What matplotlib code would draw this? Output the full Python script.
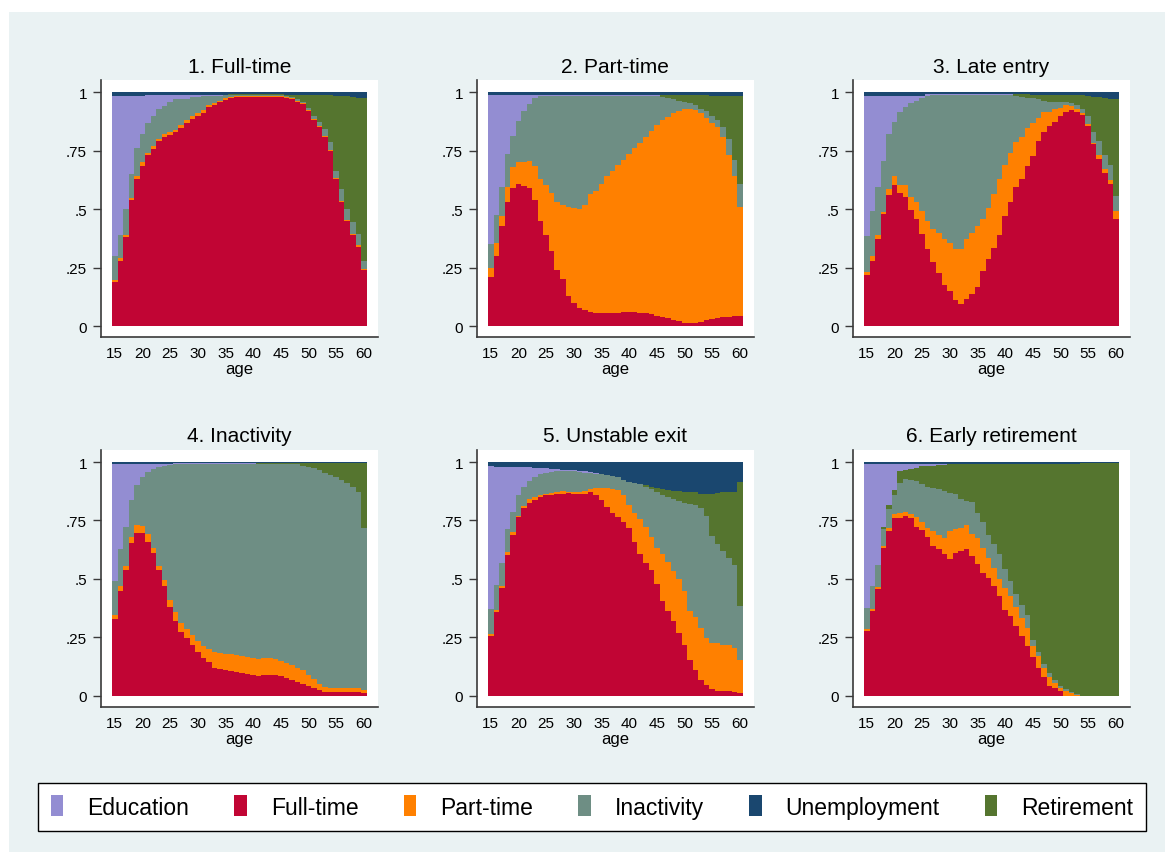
import numpy as np
import matplotlib.pyplot as plt
from matplotlib.patches import Rectangle, Patch

plt.rcParams['font.family'] = ['Liberation Sans', 'DejaVu Sans']

W, H = 1165, 853
BG = '#EAF2F3'

ages = np.arange(15, 61)
titles = ["1. Full-time", "2. Part-time", "3. Late entry",
          "4. Inactivity", "5. Unstable exit", "6. Early retirement"]
legend_labels = ["Education", "Full-time", "Part-time", "Inactivity", "Unemployment", "Retirement"]
colors = {"Education": "#938DD2", "Full-time": "#C10534", "Part-time": "#FF8000",
          "Inactivity": "#6E8E84", "Unemployment": "#1A476F", "Retirement": "#55752F"}
# bottom -> top
stack_order = ["Full-time", "Part-time", "Inactivity", "Retirement", "Education", "Unemployment"]

# ---- 1. Full-time
p1_full = [.19,.28,.38,.54,.63,.69,.73,.76,.79,.81, .82,.83,.85,.87,.89,.90,.92,.94,.95,.96,
           .97,.975,.98,.98,.98,.98,.98,.98,.98,.98, .98,.975,.97,.96,.95,.92,.88,.85,.81,.75,
           .63,.53,.45,.39,.34,.24]
p1_part = [.008,.009,.009,.009,.01,.017,.01,.014,.01,.011, .012,.012,.014,.013,.014,.011,.012,.009,.009,.008,
           .008,.005,.005,.005,.005,.005,.005,.005,.005,.005, .005,.005,.005,.004,.004,.004,.004,.004,.004,.004,
           .004,.004,.004,.005,.005,.004]
p1_inact = [.10,.10,.11,.10,.12,.12,.13,.13,.13,.12, .13,.13,.11,.09,.08,.07,.06,.04,.03,.02,
            .01,.01,.005,.005,.005,.005,.005,.005,.005,.005, .005,.005,.005,.008,.006,.01,.015,.02,.028,.034,
            .028,.05,.045,.05,.05,.036]
p1_ret = [0,0,0,0,0,0,0,0,0,0, 0,0,0,0,0,0,0,0,0,0,
          0,.002,.002,.002,.002,.002,.002,.002,.002,.002, .002,.005,.01,.017,.029,.055,.09,.115,.147,.201,
          .322,.40,.485,.535,.58,.694]
p1_edu = [.685,.595,.485,.335,.225,.165,.12,.09,.06,.05, .03,.02,.02,.02,.01,.01,.005,.005,.005,.005,
          .003,0,0,0,0,0,0,0,0,0, 0,0,0,0,0,0,0,0,0,0,
          0,0,0,0,0,0]
p1_unemp = [.015,.015,.015,.015,.015,.015,.01,.01,.01,.01, .01,.01,.01,.01,.01,.01,.01,.01,.01,.01,
            .01,.008,.008,.008,.008,.008,.008,.008,.008,.008, .008,.01,.01,.01,.01,.01,.01,.01,.01,.01,
            .015,.015,.015,.02,.025,.025]

# ---- 2. Part-time
p2_full = [.21,.30,.43,.53,.59,.61,.60,.59,.54,.45, .39,.32,.24,.20,.13,.10,.077,.069,.06,.055,
           .057,.057,.055,.057,.06,.06,.058,.057,.055,.05, .045,.04,.033,.027,.02,.015,.012,.013,.018,.025,
           .03,.035,.037,.04,.045,.043]
p2_part = [.037,.054,.04,.063,.089,.09,.103,.117,.143,.181, .213,.251,.291,.317,.38,.407,.426,.451,.505,.525,
           .553,.583,.61,.633,.65,.675,.702,.728,.755,.785, .815,.84,.862,.883,.90,.915,.918,.912,.892,.865,
           .84,.815,.773,.69,.595,.467]
p2_inact = [.104,.122,.123,.143,.135,.179,.218,.243,.291,.352, .382,.414,.454,.468,.475,.478,.482,.465,.42,.405,
            .375,.345,.32,.295,.275,.25,.225,.20,.175,.15, .125,.10,.08,.06,.045,.03,.025,.02,.02,.03,
            .03,.03,.04,.07,.07,.10]
p2_ret = [0,0,0,0,0,0,0,0,0,0, 0,0,0,0,0,0,0,0,0,0,
          0,0,0,0,0,0,0,0,0,0, 0,.008,.013,.018,.023,.028,.033,.043,.058,.068,
          .085,.105,.135,.185,.275,.375]
p2_edu = [.637,.512,.395,.252,.174,.109,.067,.038,.014,.005, .003,.003,.003,.003,.003,.003,.003,.003,.003,.003,
          .003,.003,.003,.003,.003,.003,.003,.003,.003,.003, .003,0,0,0,0,0,0,0,0,0,
          0,0,0,0,0,0]
p2_unemp = [.012,.012,.012,.012,.012,.012,.012,.012,.012,.012, .012,.012,.012,.012,.012,.012,.012,.012,.012,.012,
            .012,.012,.012,.012,.012,.012,.012,.012,.012,.012, .012,.012,.012,.012,.012,.012,.012,.012,.012,.012,
            .015,.015,.015,.015,.015,.015]

# ---- 3. Late entry
p3_full = [.217,.279,.374,.479,.56,.603,.569,.554,.496,.457, .393,.329,.274,.229,.174,.149,.111,.093,.114,.136,
           .169,.236,.286,.336,.389,.471,.529,.593,.629,.683, .729,.793,.829,.857,.874,.90,.917,.926,.917,.903,
           .857,.779,.717,.654,.607,.457]
p3_part = [.014,.021,.015,.01,.026,.037,.035,.05,.058,.072, .10,.121,.143,.168,.197,.205,.22,.236,.26,.264,
           .26,.224,.221,.228,.242,.218,.211,.196,.182,.163, .14,.096,.085,.06,.055,.034,.029,.017,.012,.007,
           .008,.006,.013,.016,.018,.036]
p3_inact = [.155,.193,.204,.218,.235,.234,.31,.332,.40,.435, .481,.536,.573,.593,.619,.636,.659,.661,.616,.59,
            .561,.53,.483,.426,.359,.301,.25,.196,.169,.132, .106,.081,.051,.043,.031,.026,.014,.012,.016,.02,
            .035,.045,.06,.06,.065,.062]
p3_ret = [0,0,0,0,0,0,0,0,0,0, 0,0,0,0,0,0,0,0,0,0,
          0,0,0,0,0,0,0,.007,.012,.014, .015,.02,.025,.03,.03,.03,.03,.035,.045,.06,
          .085,.15,.19,.245,.28,.415]
p3_edu = [.599,.492,.392,.278,.164,.111,.071,.049,.031,.021, .011,.006,.002,.002,.002,.002,.002,.002,.002,.002,
          .002,.002,.002,.002,.002,.002,.002,0,0,0, 0,0,0,0,0,0,0,0,0,0,
          0,0,0,0,0,0]
p3_unemp = [.015,.015,.015,.015,.015,.015,.015,.015,.015,.015, .015,.008,.008,.008,.008,.008,.008,.008,.008,.008,
            .008,.008,.008,.008,.008,.008,.008,.008,.008,.008, .01,.01,.01,.01,.01,.01,.01,.01,.01,.01,
            .015,.02,.02,.025,.03,.03]

# ---- 4. Inactivity
p4_full = [.329,.45,.536,.653,.697,.697,.66,.611,.536,.471, .379,.321,.274,.246,.217,.189,.16,.143,.12,.114,
           .111,.106,.103,.097,.093,.089,.083,.089,.089,.089, .083,.074,.069,.06,.051,.04,.031,.023,.017,.014,
           .014,.017,.017,.017,.017,.011]
p4_part = [.017,.019,.021,.026,.032,.029,.031,.02,.021,.026, .032,.036,.037,.04,.043,.047,.051,.057,.069,.069,
           .069,.071,.071,.072,.073,.071,.074,.071,.071,.068, .066,.066,.062,.06,.058,.049,.04,.028,.02,.017,
           .017,.014,.014,.017,.014,.015]
p4_inact = [.147,.157,.164,.157,.174,.21,.266,.338,.422,.486, .575,.633,.679,.704,.73,.754,.779,.79,.801,.807,
            .81,.813,.816,.821,.824,.83,.836,.833,.833,.836, .844,.853,.862,.87,.876,.891,.904,.914,.918,.914,
            .904,.894,.879,.861,.839,.694]
p4_ret = [0,0,0,0,0,0,0,0,0,0, 0,0,0,0,0,0,0,0,0,0,
          0,0,0,0,0,0,.002,.002,.002,.002, .002,.002,.002,.005,.01,.015,.02,.03,.04,.05,
          .06,.07,.085,.10,.125,.275]
p4_edu = [.497,.364,.269,.154,.087,.054,.033,.021,.011,.007, .004,.005,.005,.005,.005,.005,.005,.005,.005,.005,
          .005,.005,.005,.005,.005,.005,0,0,0,0, 0,0,0,0,0,0,0,0,0,0,
          0,0,0,0,0,0]
p4_unemp = [.01,.01,.01,.01,.01,.01,.01,.01,.01,.01, .01,.005,.005,.005,.005,.005,.005,.005,.005,.005,
            .005,.005,.005,.005,.005,.005,.005,.005,.005,.005, .005,.005,.005,.005,.005,.005,.005,.005,.005,.005,
            .005,.005,.005,.005,.005,.005]

# ---- 5. Unstable exit
p5_full = [.254,.359,.459,.603,.689,.763,.802,.824,.838,.849, .857,.861,.864,.864,.867,.864,.864,.864,.871,.857,
           .838,.806,.781,.763,.742,.72,.656,.608,.57,.537, .479,.405,.362,.318,.268,.218,.154,.11,.067,.046,
           .029,.02,.02,.02,.017,.01]
p5_part = [.01,.007,.01,.014,.011,.007,.011,.018,.014,.012, .007,.006,.007,.011,.004,.007,.007,.011,.014,.033,
           .052,.084,.104,.118,.115,.098,.125,.148,.153,.143, .155,.203,.212,.216,.23,.23,.208,.226,.223,.201,
           .196,.205,.198,.198,.187,.144]
p5_inact = [.109,.11,.101,.096,.085,.087,.082,.079,.083,.086, .089,.09,.089,.085,.089,.089,.086,.08,.068,.06,
            .057,.055,.055,.054,.068,.097,.129,.149,.172,.205, .236,.252,.276,.306,.337,.377,.458,.479,.515,.523,
            .459,.423,.402,.372,.358,.229]
p5_ret = [0,0,0,0,0,0,0,0,0,0, 0,0,0,0,0,0,0,0,0,0,
          0,0,0,0,0,0,0,0,.005,.01, .02,.025,.03,.035,.04,.045,.05,.055,.06,.095,
          .18,.22,.25,.28,.31,.53]
p5_edu = [.612,.504,.41,.267,.195,.123,.085,.057,.04,.028, .02,.013,.01,.007,.005,.005,.005,.005,.005,.005,
          .003,0,0,0,0,0,0,0,0,0, 0,0,0,0,0,0,0,0,0,0,
          0,0,0,0,0,0]
p5_unemp = [.015,.02,.02,.02,.02,.02,.02,.022,.025,.025, .027,.03,.03,.033,.035,.035,.038,.04,.042,.045,
            .05,.055,.06,.065,.075,.085,.09,.095,.10,.105, .11,.115,.12,.125,.125,.13,.13,.13,.135,.135,
            .135,.13,.13,.13,.13,.085]

# ---- 6. Early retirement
p6_full = [.278,.364,.455,.634,.706,.76,.76,.77,.76,.723, .709,.68,.641,.627,.605,.584,.609,.62,.627,.598,
           .562,.527,.505,.469,.426,.369,.34,.297,.254,.211, .164,.118,.082,.043,.034,.02,0,0,0,0,
           0,0,0,0,0,0]
p6_part = [.008,.008,.01,.007,.014,.017,.02,.018,.017,.04, .033,.04,.065,.062,.069,.122,.104,.10,.104,.096,
           .112,.107,.086,.079,.072,.093,.086,.082,.079,.079, .047,.05,.036,.039,.019,.014,.02,.01,.003,0,
           0,0,0,0,0,0]
p6_inact = [.09,.097,.095,.072,.08,.08,.13,.14,.148,.158, .165,.175,.184,.196,.204,.161,.151,.122,.101,.134,
            .106,.108,.099,.10,.107,.079,.065,.057,.057,.057, .029,.021,.017,.014,.014,.009,.009,.007,.003,0,
            0,0,0,0,0,0]
p6_ret = [0,0,0,.01,.015,.025,.05,.037,.045,.054, .075,.09,.095,.102,.109,.123,.126,.148,.158,.162,
          .21,.248,.30,.342,.385,.449,.499,.554,.60,.643, .75,.801,.855,.894,.923,.947,.961,.973,.984,.995,
          .995,.995,.995,.995,.995,.995]
p6_edu = [.614,.521,.43,.267,.175,.108,.03,.025,.02,.015, .008,.005,.005,.003,.003,0,0,0,0,0,
          0,0,0,0,0,0,0,0,0,0, 0,0,0,0,0,0,0,0,0,0,
          0,0,0,0,0,0]
p6_unemp = [.01,.01,.01,.01,.01,.01,.01,.01,.01,.01, .01,.01,.01,.01,.01,.01,.01,.01,.01,.01,
            .01,.01,.01,.01,.01,.01,.01,.01,.01,.01, .01,.01,.01,.01,.01,.01,.01,.01,.01,.005,
            .005,.005,.005,.005,.005,.005]

panels = [
    {"Full-time": p1_full, "Part-time": p1_part, "Inactivity": p1_inact,
     "Retirement": p1_ret, "Education": p1_edu, "Unemployment": p1_unemp},
    {"Full-time": p2_full, "Part-time": p2_part, "Inactivity": p2_inact,
     "Retirement": p2_ret, "Education": p2_edu, "Unemployment": p2_unemp},
    {"Full-time": p3_full, "Part-time": p3_part, "Inactivity": p3_inact,
     "Retirement": p3_ret, "Education": p3_edu, "Unemployment": p3_unemp},
    {"Full-time": p4_full, "Part-time": p4_part, "Inactivity": p4_inact,
     "Retirement": p4_ret, "Education": p4_edu, "Unemployment": p4_unemp},
    {"Full-time": p5_full, "Part-time": p5_part, "Inactivity": p5_inact,
     "Retirement": p5_ret, "Education": p5_edu, "Unemployment": p5_unemp},
    {"Full-time": p6_full, "Part-time": p6_part, "Inactivity": p6_inact,
     "Retirement": p6_ret, "Education": p6_edu, "Unemployment": p6_unemp},
]

fig = plt.figure(figsize=(W / 100, H / 100), dpi=100)
fig.patch.set_facecolor('white')
fig.add_artist(Rectangle((9 / W, 0), 1, (H - 13) / H, transform=fig.transFigure,
                         facecolor=BG, edgecolor='none', zorder=-10))

lefts = [100.7, 476.7, 852.7]
bottoms = [H - 338, H - 707.7]
aw, ah = 277, 257
edges = np.arange(14.5, 61.5, 1.0)

for k, data in enumerate(panels):
    ax = fig.add_axes([lefts[k % 3] / W, bottoms[k // 3] / H, aw / W, ah / H])
    ax.set_facecolor('white')
    shares = np.array([data[s] for s in stack_order], dtype=float)
    shares = shares / shares.sum(axis=0)
    base = np.zeros(len(ages))
    for s, vals in zip(stack_order, shares):
        top = base + vals
        ax.stairs(top, edges, baseline=base, fill=True, color=colors[s], lw=0)
        base = top

    ax.set_xlim(12.45, 62.5)
    ax.set_ylim(-0.047, 1.053)
    for side in ['top', 'right']:
        ax.spines[side].set_visible(False)
    for side in ['left', 'bottom']:
        ax.spines[side].set_color('#3a3a3a')
        ax.spines[side].set_linewidth(1.2)
    ax.set_yticks([0, .25, .5, .75, 1])
    ax.set_yticklabels(['0', '.25', '.5', '.75', '1'])
    ax.set_xticks(np.arange(15, 61, 5))
    ax.tick_params(axis='x', length=0, pad=6.5, labelsize=11)
    ax.tick_params(axis='y', length=5.8, width=1, pad=4, labelsize=11, color='#3a3a3a')
    ax.set_xlabel('age', fontsize=12, labelpad=1)
    ax.set_title(titles[k], fontsize=15, pad=6)

handles = [Patch(facecolor=colors[l], edgecolor='none') for l in legend_labels]
leg = fig.legend(handles, legend_labels, loc='center',
                 bbox_to_anchor=(38 / W, 21 / H, 1108 / W, 48 / H), bbox_transform=fig.transFigure,
                 ncol=6, mode='expand', fontsize=16.5, frameon=True, fancybox=False,
                 edgecolor='black', framealpha=1, handlelength=0.55, handleheight=1.0,
                 handletextpad=1.05, borderpad=0.55, borderaxespad=0)
leg.get_frame().set_linewidth(1.0)

fig.savefig('out.png', dpi=100, facecolor=fig.get_facecolor())
